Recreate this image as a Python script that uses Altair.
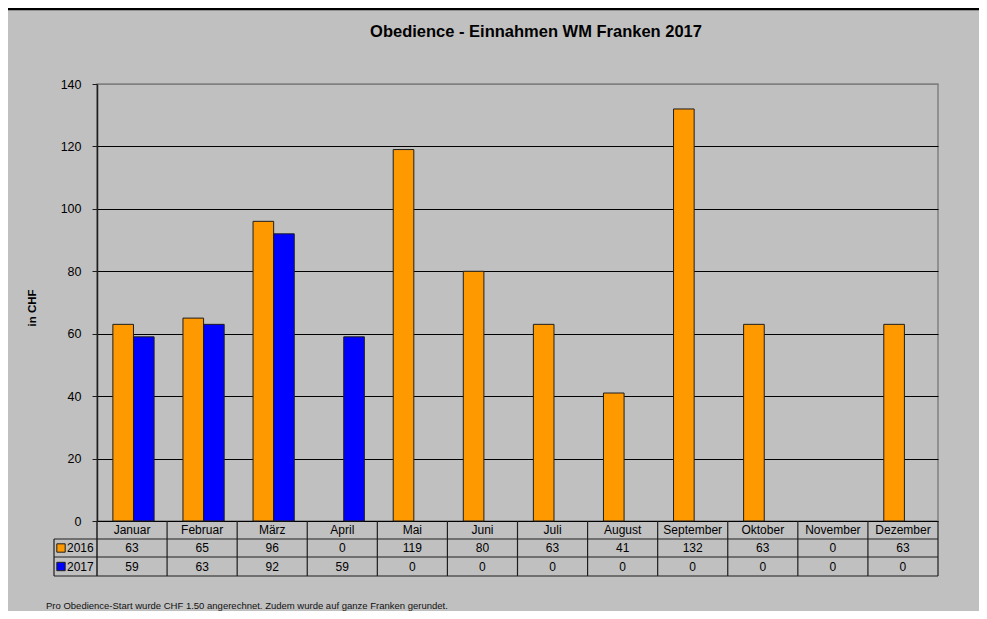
import altair as alt
import pandas as pd

# ---- data ----
months = ["Januar", "Februar", "März", "April", "Mai", "Juni", "Juli",
          "August", "September", "Oktober", "November", "Dezember"]
years = ["2016", "2017"]
values_2016 = [63, 65, 96, 0, 119, 80, 63, 41, 132, 63, 0, 63]
values_2017 = [59, 63, 92, 59, 0, 0, 0, 0, 0, 0, 0, 0]
year_colors = ["#FF9900", "#0000FF"]
y_ticks = [0, 20, 40, 60, 80, 100, 120, 140]
title_text = "Obedience - Einnahmen WM Franken 2017"
y_title = "in CHF"
footnote = "Pro Obedience-Start wurde CHF 1.50 angerechnet. Zudem wurde auf ganze Franken gerundet."

rows = []
for i, m in enumerate(months):
    rows.append({"month": m, "year": "2016", "value": values_2016[i]})
    rows.append({"month": m, "year": "2017", "value": values_2017[i]})
df = pd.DataFrame(rows)
months_df = pd.DataFrame({"month": months})
years_df = pd.DataFrame({"year": years})
one = pd.DataFrame({"k": [0]})

FONT = "Liberation Sans"
W, H = 841, 437
TOTAL_W, TOTAL_H = 971, 603
LINE = "#1e1e1e"
TABLE_FS = 12

x_scale = alt.Scale(domain=months, paddingInner=0, paddingOuter=0)
color_scale = alt.Scale(domain=years, range=year_colors)


def xm(bp=0.5):
    return alt.X("month:N", scale=x_scale, sort=months, axis=None, bandPosition=bp)


bars = alt.Chart(df).transform_filter("datum.value > 0").mark_bar(
    stroke=LINE, strokeWidth=1
).encode(
    x=alt.X("month:N", scale=x_scale, sort=months, axis=None),
    xOffset=alt.XOffset("year:N", scale=alt.Scale(domain=years, paddingInner=0,
                                                  paddingOuter=0.7, align=0.55)),
    y=alt.Y("value:Q", scale=alt.Scale(domain=[0, 140], nice=False),
            axis=alt.Axis(values=y_ticks, title=None, grid=True,
                          gridColor={"condition": {"test": "datum.value >= 140", "value": "#808080"},
                                     "value": "#000000"},
                          gridWidth=1, domainColor=LINE, domainWidth=1.5,
                          tickColor=LINE, tickSize=5, labelPadding=11,
                          labelFont=FONT, labelFontSize=12.5, labelColor="#000000")),
    color=alt.Color("year:N", scale=color_scale, legend=None),
)

# ---- data table below the plot ----
header = alt.Chart(months_df).mark_text(font=FONT, fontSize=TABLE_FS, baseline="middle", color="black").encode(
    x=xm(), y=alt.value(446), text="month:N")

row_y = {"2016": 464, "2017": 482.5}
value_layers = []
legend_layers = []
for yr in years:
    value_layers.append(
        alt.Chart(df).transform_filter(f"datum.year == '{yr}'").mark_text(
            font=FONT, fontSize=TABLE_FS, baseline="middle", color="black").encode(
            x=xm(), y=alt.value(row_y[yr]), text="value:Q"))
    legend_layers.append(
        alt.Chart(years_df).transform_filter(f"datum.year == '{yr}'").mark_square(
            size=70, opacity=1, stroke=LINE, strokeWidth=1).encode(
            x=alt.value(-36), y=alt.value(row_y[yr]),
            color=alt.Color("year:N", scale=color_scale, legend=None)))
    legend_layers.append(
        alt.Chart(years_df).transform_filter(f"datum.year == '{yr}'").mark_text(
            font=FONT, fontSize=12, align="left", baseline="middle", color="black").encode(
            x=alt.value(-30), y=alt.value(row_y[yr]), text="year:N"))

vlines = alt.Chart(months_df).mark_rule(color=LINE, strokeWidth=1.2).encode(
    x=xm(1), y=alt.value(437), y2=alt.value(492))
vline_first = alt.Chart(months_df.head(1)).mark_rule(color=LINE, strokeWidth=1.5).encode(
    x=xm(0), y=alt.value(437), y2=alt.value(492))
hlines = [
    alt.Chart(one).mark_rule(color=LINE, strokeWidth=1.2).encode(
        x=alt.value(-43), x2=alt.value(W), y=alt.value(yv))
    for yv in (455, 473, 492)
]
box_left = alt.Chart(one).mark_rule(color=LINE, strokeWidth=1.2).encode(
    x=alt.value(-43), y=alt.value(455), y2=alt.value(492))

# ---- texts ----
title = alt.Chart(one).mark_text(text=title_text, font=FONT, fontSize=16.5, fontWeight="bold",
                                 align="center", baseline="middle", color="black").encode(
    x=alt.value(439), y=alt.value(-52))
ytitle = alt.Chart(one).mark_text(text=y_title, font=FONT, fontSize=11.5, fontWeight="bold",
                                  angle=270, align="center", baseline="middle", color="black").encode(
    x=alt.value(-64), y=alt.value(224))
foot = alt.Chart(one).mark_text(text=footnote, font=FONT, fontSize=9.5, align="left",
                                baseline="middle", color="#111").encode(
    x=alt.value(-51), y=alt.value(522))
topline = alt.Chart(one).mark_rule(color="black", strokeWidth=2.5).encode(
    x=alt.value(-89), x2=alt.value(TOTAL_W - 89), y=alt.value(-75))

chart = alt.layer(
    bars, header, *value_layers, *legend_layers, vlines, vline_first, *hlines, box_left,
    title, ytitle, foot, topline
).properties(
    width=W, height=H,
    autosize=alt.AutoSizeParams(type="none"),
    padding={"left": 89, "top": 76, "right": TOTAL_W - 89 - W, "bottom": TOTAL_H - 76 - H},
    background="#C0C0C0",
).configure_view(stroke="#808080", strokeWidth=1.5)

chart.save("out.html", embed_options={"renderer": "svg", "actions": False})
